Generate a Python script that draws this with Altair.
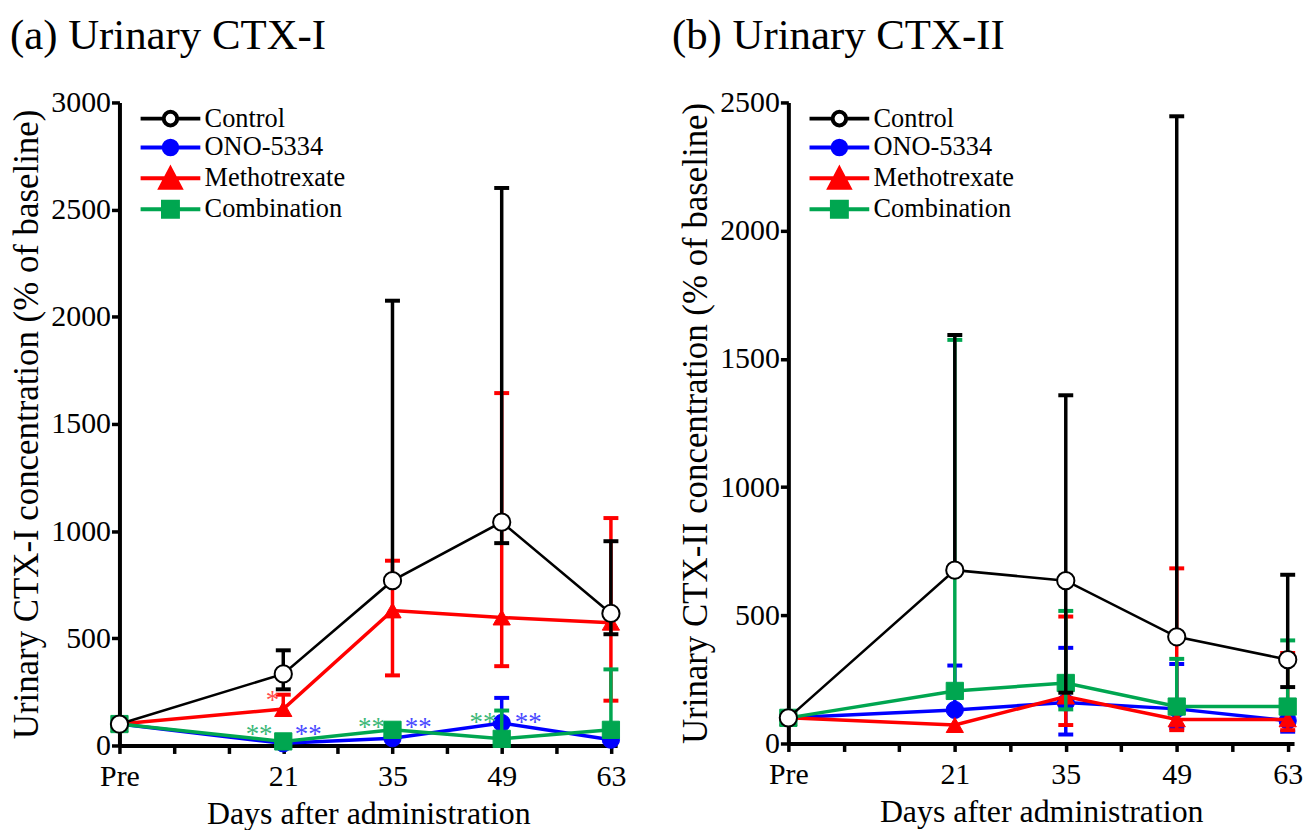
import altair as alt
import pandas as pd

FONT = "Liberation Serif"

DAYS = [0, 21, 35, 49, 63]
SERIES = ["Control", "ONO-5334", "Methotrexate", "Combination"]
DRAW_ORDER = ["ONO-5334", "Methotrexate", "Combination", "Control"]
COLORS = ["#000000", "#0000ff", "#ff0000", "#00a650"]
FILLS = ["#ffffff", "#0000ff", "#ff0000", "#00a650"]
SHAPES = ["circle", "circle", "triangle-up", "square"]

# ---------------- Panel (a): Urinary CTX-I ----------------
A_CONTROL = [100, 334, 769, 1042, 616]
A_CONTROL_HI = [None, 444, 2075, 2601, 953]
A_CONTROL_LO = [None, 262, None, 944, 519]

A_ONO = [100, 10, 34, 105, 27]
A_ONO_HI = [None, None, None, 222, None]
A_ONO_LO = [None, None, None, None, None]

A_MTX = [100, 170, 630, 597, 573]
A_MTX_HI = [None, 237, 862, 1644, 1061]
A_MTX_LO = [None, None, 327, 370, 209]

A_COMBO = [100, 19, 73, 31, 73]
A_COMBO_HI = [None, None, None, 163, 355]
A_COMBO_LO = [None, None, None, None, None]

# significance marks (panel a)
STAR_SERIES = ["Methotrexate", "Combination", "ONO-5334", "Combination", "ONO-5334",
               "Combination", "ONO-5334"]
STAR_DAY = [19.6, 17.9, 24.2, 32.3, 38.3, 46.6, 52.4]
STAR_Y = [234, 75, 75, 107, 107, 131, 131]
STAR_TEXT = ["*", "**", "**", "**", "**", "**", "**"]

# ---------------- Panel (b): Urinary CTX-II ----------------
B_CONTROL = [100, 676, 635, 416, 327]
B_CONTROL_HI = [None, 1593, 1358, 2446, 658]
B_CONTROL_LO = [None, None, 198, None, 220]

B_ONO = [100, 131, 160, 135, 89]
B_ONO_HI = [None, 304, 373, 310, None]
B_ONO_LO = [None, None, 35, 61, 46]

B_MTX = [100, 72, 183, 94, 94]
B_MTX_HI = [None, None, 495, 683, 353]
B_MTX_LO = [None, None, 72, 52, 52]

B_COMBO = [100, 205, 236, 144, 144]
B_COMBO_HI = [None, 1574, 517, 330, 402]
B_COMBO_LO = [None, None, 133, None, None]


def rows_for(series_data):
    rows = []
    for name, (vals, hi, lo) in series_data.items():
        for d, v, h, l in zip(DAYS, vals, hi, lo):
            rows.append({"series": name, "day": d, "value": v, "hi": h, "lo": l})
    return rows


# legend symbols: a line segment with the marker in its middle
CIRCLE_PATH = "M-3,0H-0.68M0.68,0H3M-0.68,0A0.68,0.68,0,1,1,0.68,0A0.68,0.68,0,1,1,-0.68,0Z"
TRI_PATH = "M-3,0H3M0,-0.95L1,0.95L-1,0.95Z"
SQ_PATH = "M-3,0H3M-0.75,-0.75H0.75V0.75H-0.75Z"
LEGEND_SHAPES = [CIRCLE_PATH, CIRCLE_PATH, TRI_PATH, SQ_PATH]


def make_legend(lx):
    return alt.Legend(
        title=None, orient="none", legendX=lx, legendY=3, padding=0,
        labelFont=FONT, labelFontSize=26.5, labelColor="black", labelOffset=21,
        symbolSize=400, rowPadding=-3, symbolStrokeWidth=4, symbolOpacity=1,
    )


def panel(title, ytitle, ymax, width, height, rows, legend_x, title_dx, stars=None):
    df = pd.DataFrame(rows)
    xdom = [0, 63.8]
    x = alt.X("day:Q", scale=alt.Scale(domain=xdom, nice=False, zero=False),
              axis=alt.Axis(values=list(range(0, 64, 7)), grid=False, labelFlush=False,
                            labelOverlap=False, title="Days after administration",
                            labelExpr="datum.value == 0 ? 'Pre' : (indexof([21,35,49,63], datum.value) >= 0 ? datum.label : '')"))
    yscale = alt.Scale(domain=[0, ymax], nice=False)
    yaxis = alt.Axis(values=list(range(0, ymax + 1, 500)), grid=False, labelFlush=False,
                     title=ytitle, format="d")
    color = alt.Color("series:N", scale=alt.Scale(domain=SERIES, range=COLORS), legend=None)
    fill = alt.Fill("series:N", scale=alt.Scale(domain=SERIES, range=FILLS), legend=None)
    shape = alt.Shape("series:N", scale=alt.Scale(domain=SERIES, range=SHAPES), legend=None)

    layers = []
    for s in DRAW_ORDER:
        base = alt.Chart(df).transform_filter(alt.datum.series == s)
        bars = base.transform_filter("isValid(datum.hi) || isValid(datum.lo)").transform_calculate(
            top="isValid(datum.hi) ? datum.hi : datum.value",
            bot="isValid(datum.lo) ? datum.lo : datum.value",
        ).mark_rule(strokeWidth=3.5).encode(
            x=x, y=alt.Y("bot:Q", scale=yscale, axis=yaxis), y2="top:Q", color=color)
        cap_hi = base.transform_filter("isValid(datum.hi)").mark_tick(
            orient="horizontal", size=15, thickness=4, opacity=1).encode(
            x=x, y=alt.Y("hi:Q", scale=yscale, axis=yaxis), color=color)
        cap_lo = base.transform_filter("isValid(datum.lo)").mark_tick(
            orient="horizontal", size=15, thickness=4, opacity=1).encode(
            x=x, y=alt.Y("lo:Q", scale=yscale, axis=yaxis), color=color)
        lw = 2.6 if s == "Control" else 3.5
        line = base.mark_line(strokeWidth=lw).encode(
            x=x, y=alt.Y("value:Q", scale=yscale, axis=yaxis), color=color)
        sw = 2 if s == "Control" else 1
        pts = base.mark_point(size=300, filled=False, strokeWidth=sw, opacity=1, fillOpacity=1).encode(
            x=x, y=alt.Y("value:Q", scale=yscale, axis=yaxis), color=color, fill=fill, shape=shape)
        layers += [bars, cap_hi, cap_lo, line, pts]

    if stars is not None:
        sdf = pd.DataFrame(stars)
        star_colors = {"Methotrexate": "#ff4d4d", "Combination": "#3cb878", "ONO-5334": "#4a4aff"}
        for s, c in star_colors.items():
            layers.append(
                alt.Chart(sdf).transform_filter(alt.datum.series == s).mark_text(
                    font=FONT, fontSize=27, color=c, baseline="middle", dy=6).encode(
                    x=alt.X("day:Q", scale=alt.Scale(domain=xdom, nice=False, zero=False)),
                    y=alt.Y("y:Q", scale=yscale),
                    text="text:N")
            )

    # legend-only layer (draws no marks, only provides the legend)
    legend = make_legend(legend_x)
    leg = alt.Chart(df).transform_filter("false").mark_point(
        filled=False, strokeWidth=3.5, opacity=1, fillOpacity=1).encode(
        x=x, y=alt.Y("value:Q", scale=yscale, axis=yaxis),
        color=alt.Color("series:N", scale=alt.Scale(domain=SERIES, range=COLORS), legend=legend),
        fill=alt.Fill("series:N", scale=alt.Scale(domain=SERIES, range=FILLS), legend=legend),
        shape=alt.Shape("series:N", scale=alt.Scale(domain=SERIES, range=LEGEND_SHAPES), legend=legend),
    )
    layers.append(leg)

    return alt.layer(*layers).resolve_scale(
        color="independent", fill="independent", shape="independent"
    ).properties(
        width=width, height=height,
        title=alt.TitleParams(title, anchor="start", frame="bounds", fontSize=43, font=FONT,
                              fontWeight="normal", color="black", offset=30, dx=title_dx),
    )


rows_a = rows_for({
    "Control": (A_CONTROL, A_CONTROL_HI, A_CONTROL_LO),
    "ONO-5334": (A_ONO, A_ONO_HI, A_ONO_LO),
    "Methotrexate": (A_MTX, A_MTX_HI, A_MTX_LO),
    "Combination": (A_COMBO, A_COMBO_HI, A_COMBO_LO),
})
rows_b = rows_for({
    "Control": (B_CONTROL, B_CONTROL_HI, B_CONTROL_LO),
    "ONO-5334": (B_ONO, B_ONO_HI, B_ONO_LO),
    "Methotrexate": (B_MTX, B_MTX_HI, B_MTX_LO),
    "Combination": (B_COMBO, B_COMBO_HI, B_COMBO_LO),
})
stars_a = [{"series": s, "day": d, "y": y, "text": t}
           for s, d, y, t in zip(STAR_SERIES, STAR_DAY, STAR_Y, STAR_TEXT)]

pa = panel("(a) Urinary CTX-I", "Urinary CTX-I concentration (% of baseline)", 3000,
           500, 646, rows_a, 38, 0, stars_a)
pb = panel("(b) Urinary CTX-II", "Urinary CTX-II concentration (% of baseline)", 2500,
           508, 644, rows_b, 38, -7)

chart = alt.hconcat(pa, pb, spacing=46).resolve_scale(
    x="independent", y="independent"
).properties(
    padding={"left": 10, "top": 13, "right": 0, "bottom": 0}
).configure_view(stroke=None).configure_axis(
    domainColor="black", domainWidth=4, tickColor="black", tickWidth=3.5, tickSize=8,
    labelFont=FONT, labelFontSize=30, labelColor="black",
    titleFont=FONT, titleFontWeight="normal", titleColor="black",
).configure_axisY(titleFontSize=35, titlePadding=6, labelPadding=1).configure_axisX(
    titleFontSize=32, titlePadding=7, labelPadding=8
).configure_legend(labelFont=FONT, labelFontSize=26.5, labelColor="black")

chart.save("out.html", embed_options={"renderer": "svg", "actions": False})
